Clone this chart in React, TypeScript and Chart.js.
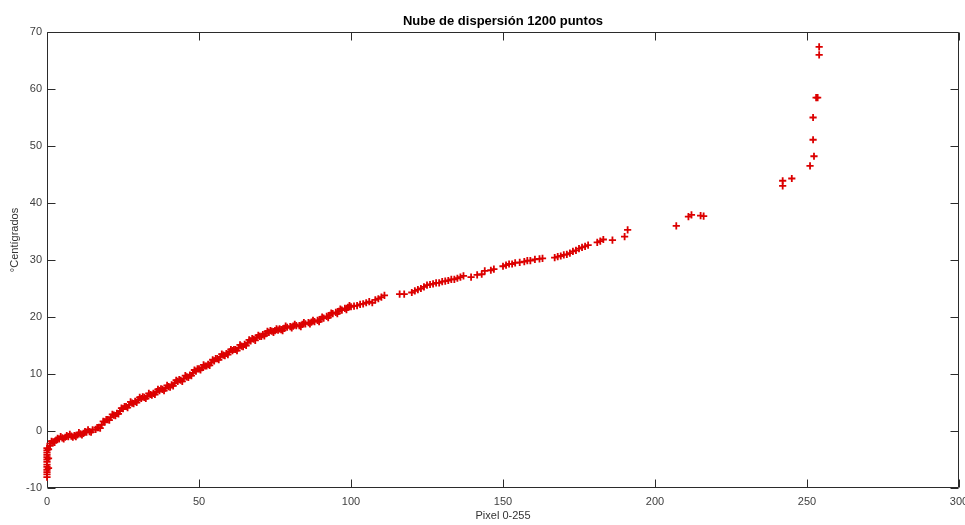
import { useEffect, useRef } from 'react';
import { Chart, registerables } from 'chart.js';

Chart.register(...registerables);

const chartTitle = 'Nube de dispersión 1200 puntos';
const xAxisTitle = 'Pixel 0-255';
const yAxisTitle = '°Centígrados';

const xMin = 0;
const xMax = 300;
const xStep = 50;
const yMin = -10;
const yMax = 70;
const yStep = 10;

// vertical cluster at pixel 0
const zeroPixel = [0, 0, 0, 0, 0, 0, 0, 0, 0, 0, 0, 0, 0, 0.5, 0.5, 0.5, 1, 1];
const zeroTemp = [-8.1, -7.6, -7.2, -6.8, -6.3, -5.9, -5.4, -5.0, -4.6, -4.2, -3.8, -3.4, -3.0, -6.5, -4.8, -3.2, -2.6, -2.2];

// dense band
const bandPixel = [
  2, 3, 4, 5, 6, 7, 8, 9, 10, 11,
  12, 13, 14, 15, 16, 17, 18, 19, 20, 21,
  22, 23, 24, 25, 26, 27, 28, 29, 30, 31,
  32, 33, 34, 35, 36, 37, 38, 39, 40, 41,
  42, 43, 44, 45, 46, 47, 48, 49, 50, 51,
  52, 53, 54, 55, 56, 57, 58, 59, 60, 61,
  62, 63, 64, 65, 66, 67, 68, 69, 70, 71,
  72, 73, 74, 75, 76, 77, 78, 79, 80, 81,
  82, 83, 84, 85, 86, 87, 88, 89, 90, 91,
  92, 93, 94, 95, 96, 97, 98, 99, 100, 101,
  102, 103, 104, 105, 106, 107, 108, 109, 110, 111,
];
const bandTemp = [
  -1.9, -1.6, -1.4, -1.2, -1.1, -1.0, -0.9, -0.8, -0.7, -0.5,
  -0.4, -0.2, -0.1, 0.2, 0.3, 0.6, 1.1, 1.6, 2.0, 2.4,
  2.8, 3.1, 3.5, 3.9, 4.3, 4.6, 4.9, 5.2, 5.5, 5.7,
  5.9, 6.1, 6.4, 6.6, 6.9, 7.1, 7.3, 7.5, 7.8, 8.1,
  8.4, 8.7, 8.9, 9.2, 9.5, 9.8, 10.2, 10.5, 10.9, 11.1,
  11.4, 11.7, 12.0, 12.3, 12.7, 13.0, 13.3, 13.6, 13.9, 14.1,
  14.3, 14.6, 14.9, 15.2, 15.5, 15.8, 16.1, 16.4, 16.6, 16.9,
  17.1, 17.3, 17.5, 17.6, 17.7, 17.8, 18.0, 18.2, 18.3, 18.4,
  18.5, 18.5, 18.7, 18.8, 19.0, 19.1, 19.2, 19.4, 19.6, 19.8,
  20.1, 20.3, 20.6, 20.8, 21.0, 21.2, 21.5, 21.7, 21.8, 21.9,
  22.0, 22.2, 22.3, 22.5, 22.7, 22.5, 23.0, 23.2, 23.5, 23.8,
];

// extra readings that thicken the band
const extraPixel = [3.5, 6.5, 9.5, 12.5, 16.5, 19.5, 22.5, 25.5, 28.5, 31.5, 34.5, 37.5, 40.5, 43.5, 46.5, 49.5, 52.5, 55.5, 58.5, 61.5, 64.5, 67.5, 70.5, 73.5, 76.5];
const extraTemp = [-1.3, -0.8, -1.0, -0.1, 0.6, 2.0, 2.7, 4.3, 4.8, 6.0, 6.3, 7.4, 7.7, 9.0, 9.4, 10.9, 11.4, 12.7, 13.2, 14.3, 14.8, 16.2, 16.6, 17.6, 17.9];

// lower edge of the band
const lowerPixel = [2.5, 5.5, 8.5, 11.5, 14.5, 17.5, 20.5, 23.5, 26.5, 29.5, 32.5, 35.5, 38.5, 41.5, 44.5, 47.5, 50.5, 53.5, 56.5, 59.5, 62.5, 65.5, 68.5, 71.5, 74.5, 77.5, 80.5, 83.5, 86.5, 89.5, 92.5, 95.5, 98.5];
const lowerTemp = [-2.0, -1.4, -1.1, -0.7, -0.2, 0.5, 1.9, 3.0, 4.1, 5.0, 5.7, 6.4, 7.1, 7.9, 8.7, 9.7, 10.7, 11.5, 12.5, 13.4, 14.1, 15.0, 15.9, 16.7, 17.3, 17.6, 18.1, 18.3, 18.8, 19.2, 19.9, 20.6, 21.3];

// upper edge of the band
const upperPixel = [1.5, 4.5, 7.5, 10.5, 13.5, 18.5, 21.5, 24.5, 27.5, 30.5, 33.5, 36.5, 39.5, 42.5, 45.5, 48.5, 51.5, 54.5, 57.5, 60.5, 63.5, 66.5, 69.5, 72.5, 75.5, 78.5, 81.5, 84.5, 87.5, 90.5, 93.5, 96.5, 99.5];
const upperTemp = [-1.8, -1.0, -0.6, -0.3, 0.2, 1.7, 2.9, 4.0, 5.1, 5.9, 6.6, 7.3, 8.0, 8.9, 9.7, 10.7, 11.6, 12.5, 13.5, 14.3, 15.1, 16.0, 16.8, 17.5, 17.9, 18.4, 18.7, 19.0, 19.4, 20.0, 20.7, 21.4, 22.0];

// sparse upper part of the curve
const sparsePixel = [
  116, 117.5, 120, 121, 122, 123, 124, 125, 126, 127,
  128, 129, 130, 131, 132, 133, 134, 135, 136, 137,
  139.5, 141.5, 143, 144, 146, 147,
  150, 151, 152, 153, 154, 155.5, 157, 158, 159, 160.5,
  162, 163, 167, 168, 169, 170, 171, 172, 173, 174,
  175, 176, 177, 178, 181, 182, 183, 186, 190, 191,
];
const sparseTemp = [
  24.0, 24.0, 24.3, 24.6, 24.8, 25.0, 25.3, 25.6, 25.7, 25.8,
  26.0, 26.0, 26.2, 26.3, 26.4, 26.6, 26.6, 26.8, 27.0, 27.2,
  27.0, 27.4, 27.5, 28.1, 28.2, 28.4,
  28.9, 29.1, 29.3, 29.3, 29.5, 29.6, 29.7, 29.9, 29.9, 30.1,
  30.2, 30.3, 30.4, 30.6, 30.7, 30.9, 31.0, 31.2, 31.5, 31.7,
  32.0, 32.2, 32.4, 32.6, 33.1, 33.3, 33.6, 33.5, 34.1, 35.3,
];

// high-pixel outliers
const highPixel = [207, 211, 212, 215, 216, 242, 242, 245, 251, 252.3, 252, 252, 253, 253.5, 254, 254];
const highTemp = [36.0, 37.6, 37.9, 37.8, 37.7, 43.0, 43.9, 44.3, 46.5, 48.2, 51.1, 55.0, 58.5, 58.5, 66.0, 67.4];

const FONT = "'Liberation Sans', Arial, Helvetica, sans-serif";

function zip(xs: number[], ys: number[]) {
  return xs.map((x, i) => ({ x, y: ys[i] }));
}

const TICK_LEN = 8;

const boxPlugin = {
  id: 'matlabBox',
  beforeDatasetsDraw(chart: any) {
    const { ctx, chartArea: a, scales } = chart;
    ctx.save();
    ctx.strokeStyle = '#2b2b2b';
    ctx.lineWidth = 1;
    const L = Math.round(a.left) + 0.5;
    const R = Math.round(a.right) - 0.5;
    const T = Math.round(a.top) + 0.5;
    const B = Math.round(a.bottom) - 0.5;
    ctx.beginPath();
    ctx.rect(L, T, R - L, B - T);
    ctx.stroke();
    ctx.beginPath();
    scales.x.ticks.forEach((t: any) => {
      const px = Math.round(scales.x.getPixelForValue(t.value)) + 0.5;
      ctx.moveTo(px, B);
      ctx.lineTo(px, B - TICK_LEN);
      ctx.moveTo(px, T);
      ctx.lineTo(px, T + TICK_LEN);
    });
    scales.y.ticks.forEach((t: any) => {
      const py = Math.round(scales.y.getPixelForValue(t.value)) + 0.5;
      ctx.moveTo(L, py);
      ctx.lineTo(L + TICK_LEN, py);
      ctx.moveTo(R, py);
      ctx.lineTo(R - TICK_LEN, py);
    });
    ctx.stroke();
    ctx.restore();
  },
  afterDraw(chart: any) {
    const { ctx, chartArea: a } = chart;
    ctx.save();
    // title, centred over the axes box (MATLAB style)
    ctx.fillStyle = '#000000';
    ctx.font = `bold 13px ${FONT}`;
    ctx.textAlign = 'center';
    ctx.textBaseline = 'middle';
    ctx.fillText(chartTitle, (a.left + a.right) / 2, a.top - 11);
    // y axis label
    ctx.translate(15, 240);
    ctx.rotate(-Math.PI / 2);
    ctx.fillStyle = '#333333';
    ctx.font = `11px ${FONT}`;
    ctx.fillText(yAxisTitle, 0, 0);
    ctx.restore();
  },
};

export default function App() {
  const ref = useRef<HTMLCanvasElement>(null);

  useEffect(() => {
    if (!ref.current) return;
    const points = [
      ...zip(zeroPixel, zeroTemp),
      ...zip(bandPixel, bandTemp),
      ...zip(extraPixel, extraTemp),
      ...zip(lowerPixel, lowerTemp),
      ...zip(upperPixel, upperTemp),
      ...zip(sparsePixel, sparseTemp),
      ...zip(highPixel, highTemp),
    ];
    const chart = new Chart(ref.current, {
      type: 'scatter',
      data: {
        datasets: [
          {
            data: points,
            pointStyle: 'cross',
            pointRadius: 3.6,
            pointBorderWidth: 1.8,
            borderColor: 'rgb(220,0,0)',
            backgroundColor: 'rgb(220,0,0)',
            clip: false as any,
          },
        ],
      },
      options: {
        responsive: false,
        animation: false,
        layout: { padding: { left: 0, right: 6, top: 32, bottom: 0 } },
        plugins: {
          legend: { display: false },
          tooltip: { enabled: false },
          title: { display: false },
        },
        scales: {
          x: {
            type: 'linear',
            min: xMin,
            max: xMax,
            grid: { display: false, drawTicks: false },
            border: { display: false },
            ticks: {
              stepSize: xStep,
              padding: 7,
              color: '#404040',
              font: { size: 11, family: FONT },
              maxRotation: 0,
            },
            title: {
              display: true,
              text: xAxisTitle,
              color: '#333333',
              font: { size: 11, family: FONT },
              padding: { top: 0, bottom: 2 },
            },
            afterFit: (s: any) => {
              s.height = 37;
              s.paddingLeft = 0;
              s.paddingRight = 0;
            },
          },
          y: {
            type: 'linear',
            min: yMin,
            max: yMax,
            grid: { display: false, drawTicks: false },
            border: { display: false },
            ticks: {
              stepSize: yStep,
              padding: 5,
              color: '#404040',
              font: { size: 11, family: FONT },
            },
            afterFit: (s: any) => {
              s.width = 47;
              s.paddingTop = 0;
              s.paddingBottom = 0;
            },
          },
        },
      },
      plugins: [boxPlugin],
    });
    return () => chart.destroy();
  }, []);

  return (
    <div style={{ position: 'fixed', left: 0, top: 0, width: 965, height: 525, background: '#fff' }}>
      <canvas ref={ref} width={965} height={525} style={{ width: 965, height: 525, display: 'block' }} />
    </div>
  );
}
